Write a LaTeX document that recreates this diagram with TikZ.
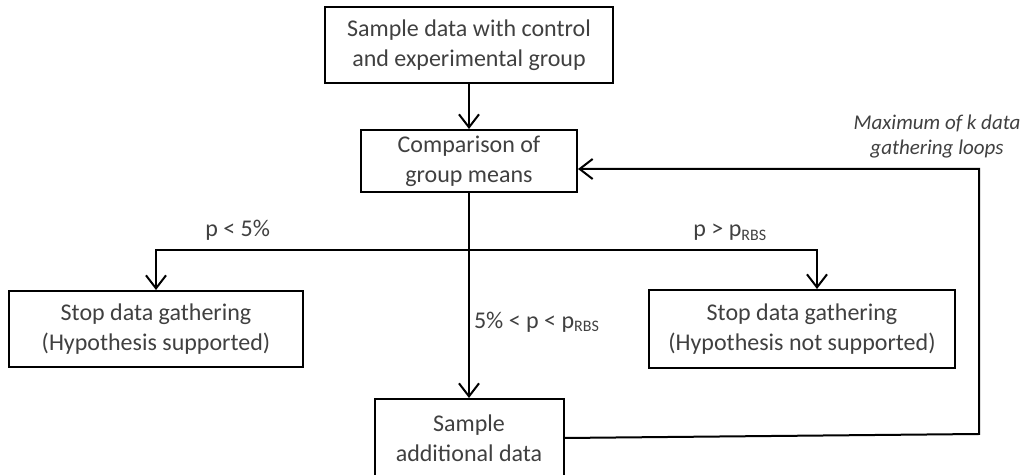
\documentclass[tikz,border=0pt]{standalone}
\usepackage{fontspec}
\setmainfont{Carlito}
\usepackage{tikz}
\usetikzlibrary{arrows.meta,positioning}
\definecolor{txtgray}{HTML}{404040}

\begin{document}
\begin{tikzpicture}[
    x=0.5pt, y=-0.5pt,
    box/.style={
        draw,
        line width=1pt,
        align=center,
        inner sep=2pt,
        text=txtgray,
        font=\fontsize{12}{15}\selectfont
    },
    flow/.style={-{Straight Barb[length=6.5pt,width=10pt]},line width=1pt},
    cond/.style={text=txtgray,font=\fontsize{12}{14}\selectfont}
]
\useasboundingbox (0,0) rectangle (1030,475);

\node[box,minimum width=144pt,minimum height=38pt] (sample) at (469,45) {
    Sample data with control\\
    and experimental group
};

\node[box,minimum width=108pt,minimum height=31pt,below=22.5pt of sample] (compare) {
    Comparison of\\
    group means
};

\node[box,minimum width=94.5pt,minimum height=39pt,below=102.5pt of compare] (more) {
    Sample\\
    additional data
};

\node[box,minimum width=147pt,minimum height=38pt] (supported) at (156,329) {
    Stop data gathering\\
    (Hypothesis supported)
};

\node[box,minimum width=153pt,minimum height=39pt] (rejected) at (802,329) {
    Stop data gathering\\
    (Hypothesis not supported)
};

\coordinate (split) at (470,250);
\coordinate (turn) at (979,434);

\draw[flow] (sample) -- (compare);
\draw[flow] (compare) -- node[cond,right,pos=0.63,inner sep=2pt] {5\% < p < p\textsubscript{RBS}} (more);
\draw[flow] (split) -| node[cond,above,pos=0.37,yshift=1pt] {p < 5\%} (supported);
\draw[flow] (split) -| node[cond,above,pos=0.375,yshift=1pt] {p > p\textsubscript{RBS}} ([xshift=7.5pt]rejected.north);
\draw[flow] (more.east) -- (turn) |- ([yshift=-4pt]compare.east);

\node[text=txtgray,font=\fontsize{10.5}{12.5}\selectfont\itshape,align=center] (loops) at (937,137) {
    Maximum of k data\\
    gathering loops
};
\end{tikzpicture}
\end{document}
